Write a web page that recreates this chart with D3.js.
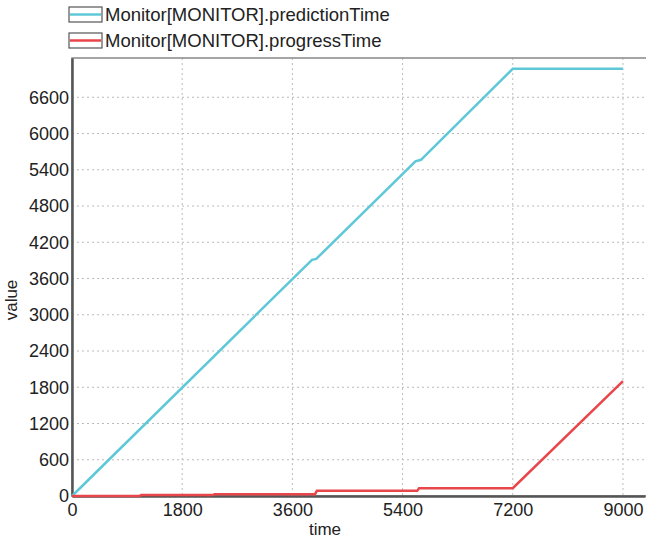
<!DOCTYPE html>
<html><head><meta charset="utf-8">
<script src="https://cdn.jsdelivr.net/npm/d3@7"></script>
<style>body{margin:0;background:#fff;} text{font-family:"Liberation Sans",Arial,sans-serif;}</style>
</head><body>
<svg id="c" width="646" height="543"></svg>
<script>
const seriesNames = ["Monitor[MONITOR].predictionTime", "Monitor[MONITOR].progressTime"];
const seriesColors = ["#5fc8d8", "#e8464a"];
const predTime = [0, 3920, 3990, 5610, 5700, 7200, 9000];
const predValue = [0, 3910, 3925, 5540, 5565, 7070, 7070];
const progTime = [0, 1100, 1130, 2300, 2330, 3970, 4000, 5640, 5670, 7200, 9000];
const progValue = [0, 0, 15, 15, 30, 30, 85, 85, 130, 130, 1900];
const xTicks = [0, 1800, 3600, 5400, 7200, 9000];
const yTicks = [0, 600, 1200, 1800, 2400, 3000, 3600, 4200, 4800, 5400, 6000, 6600];

const svg = d3.select("#c");
const L = 72, T = 58, R = 645, B = 496;
const x = d3.scaleLinear().domain([0, 9360]).range([L, R]);
const y = d3.scaleLinear().domain([0, 7250]).range([B, T]);

// grid
const g = svg.append("g");
g.selectAll(".gx").data(xTicks.slice(1)).join("line")
  .attr("x1", d => x(d)).attr("x2", d => x(d)).attr("y1", T).attr("y2", B)
  .attr("stroke", "#bbb").attr("stroke-width", 1).attr("stroke-dasharray", "2,3");
g.selectAll(".gy").data(yTicks.slice(1)).join("line")
  .attr("x1", L).attr("x2", R).attr("y1", d => y(d)).attr("y2", d => y(d))
  .attr("stroke", "#bbb").attr("stroke-width", 1).attr("stroke-dasharray", "2,3");

// frame
svg.append("rect").attr("x", L).attr("y", T).attr("width", R - L + 3).attr("height", B - T)
  .attr("fill", "none").attr("stroke", "#888").attr("stroke-width", 1.5);

// axes
const xAxis = svg.append("g").attr("transform", `translate(0,${B})`)
  .call(d3.axisBottom(x).tickValues(xTicks).tickSize(0).tickPadding(7).tickFormat(d3.format("d")));
xAxis.select(".domain").attr("stroke", "#555").attr("stroke-width", 2.5);
xAxis.selectAll("text").attr("font-size", 18).attr("fill", "#222").attr("font-family", "Liberation Sans, Arial");

const yAxis = svg.append("g").attr("transform", `translate(${L},0)`)
  .call(d3.axisLeft(y).tickValues(yTicks).tickSize(0).tickPadding(3).tickFormat(d3.format("d")));
yAxis.select(".domain").attr("stroke", "#555").attr("stroke-width", 2.5);
yAxis.selectAll("text").attr("font-size", 18).attr("fill", "#222").attr("font-family", "Liberation Sans, Arial");

svg.append("text").attr("x", 325).attr("y", 535).attr("text-anchor", "middle")
  .attr("font-size", 17).attr("fill", "#222").text("time");
svg.append("text").attr("transform", "translate(17,300) rotate(-90)").attr("text-anchor", "middle")
  .attr("font-size", 17).attr("fill", "#222").text("value");

// lines
const line = d3.line().x(d => x(d[0])).y(d => y(d[1]));
const predData = predTime.map((t, i) => [t, predValue[i]]);
const progData = progTime.map((t, i) => [t, progValue[i]]);
svg.append("path").datum(predData).attr("d", line).attr("fill", "none")
  .attr("stroke", seriesColors[0]).attr("stroke-width", 2.5);
svg.append("path").datum(progData).attr("d", line).attr("fill", "none")
  .attr("stroke", seriesColors[1]).attr("stroke-width", 2.5);

// legend
const lg = svg.append("g");
seriesNames.forEach((n, i) => {
  const yy = 7 + i * 26;
  lg.append("rect").attr("x", 69).attr("y", yy).attr("width", 33).attr("height", 15)
    .attr("fill", "#fff").attr("stroke", "#555").attr("stroke-width", 1.2);
  lg.append("line").attr("x1", 70).attr("x2", 101).attr("y1", yy + 7.5).attr("y2", yy + 7.5)
    .attr("stroke", seriesColors[i]).attr("stroke-width", 2.5);
  lg.append("text").attr("x", 105).attr("y", yy + 14).attr("font-size", 18.5).attr("fill", "#222").text(n);
});
</script>
</body></html>
